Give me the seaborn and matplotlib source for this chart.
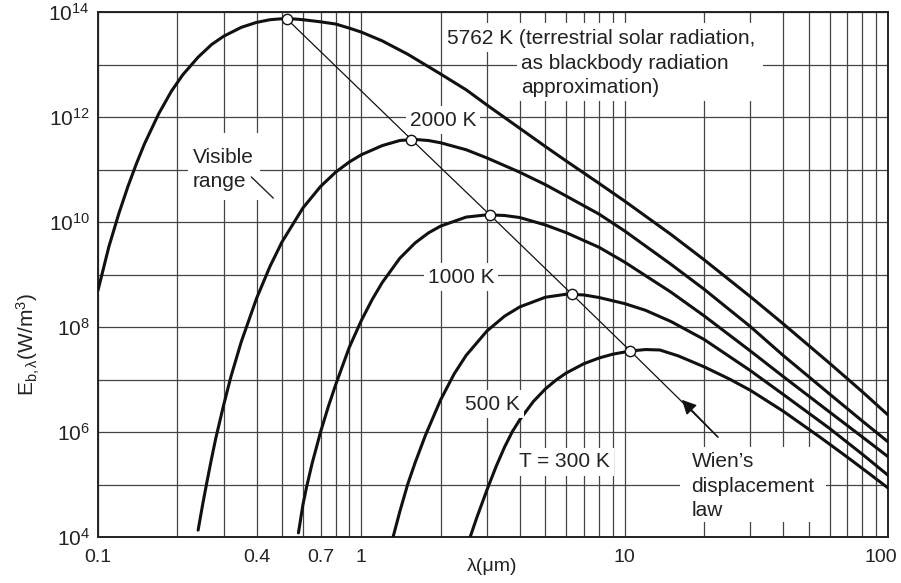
import matplotlib
matplotlib.use("Agg")
import pandas as pd
import seaborn as sns
import matplotlib.pyplot as plt
import matplotlib.transforms as mtransforms
from matplotlib.patches import Rectangle
from matplotlib.ticker import LogLocator, NullFormatter

# values (wavelength in um, E in W/m^3)
lam_5762 = [0.1, 0.11, 0.12, 0.13, 0.14, 0.15, 0.17, 0.19, 0.21, 0.24, 0.27, 0.3, 0.35, 0.4, 0.45,
            0.5, 0.55, 0.6, 0.7, 0.8, 0.9, 1.0, 1.2, 1.5, 2.0, 2.5, 3, 4, 5, 6, 8, 10, 15, 20, 30,
            40, 60, 80, 100]
E_5762 = [5.0e8, 3.4e9, 1.45e10, 4.8e10, 1.3e11, 3.05e11, 1.15e12, 3.1e12, 6.4e12, 1.38e13, 2.4e13,
          3.45e13, 5.1e13, 6.34e13, 7.13e13, 7.45e13, 7.39e13, 7.13e13, 6.5e13, 5.89e13, 4.93e13,
          4.14e13, 2.82e13, 1.57e13, 6.59e12, 3.30e12, 1.69e12, 6.07e11, 2.74e11, 1.45e11, 5.43e10,
          2.50e10, 5.78e9, 1.92e9, 3.79e8, 1.15e8, 2.04e7, 5.81e6, 2.11e6]

lam_2000 = [0.24, 0.25, 0.26, 0.27, 0.28, 0.30, 0.32, 0.35, 0.40, 0.45, 0.5, 0.6, 0.7, 0.8, 0.9,
            1.0, 1.2, 1.4, 1.6, 1.8, 2.0, 2.5, 3, 4, 5, 6, 8, 10, 15, 20, 30, 40, 60, 80, 100]
E_2000 = [1.35e4, 4.3e4, 1.21e5, 3.15e5, 7.55e5, 3.26e6, 1.15e7, 5.23e7, 3.5e8, 1.43e9, 4.19e9,
          1.85e10, 4.75e10, 8.95e10, 1.39e11, 1.91e11, 2.85e11, 3.57e11, 3.74e11, 3.56e11, 3.23e11,
          2.38e11, 1.66e11, 8.85e10, 5.14e10, 3.12e10, 1.41e10, 6.75e9, 1.56e9, 5.27e8, 1.02e8,
          2.87e7, 5.29e6, 1.61e6, 6.5e5]

lam_1000 = [0.577, 0.60, 0.62, 0.65, 0.70, 0.75, 0.80, 0.90, 1.0, 1.1, 1.2, 1.4, 1.6, 1.8, 2.0,
            2.5, 3.0, 3.5, 4.0, 5.0, 6.0, 8.0, 10, 15, 20, 30, 40, 60, 80, 100]
E_1000 = [1.2e4, 4.1e4, 9.1e4, 2.5e5, 1.0e6, 3.09e6, 8.1e6, 4.1e7, 1.33e8, 3.35e8, 7.0e8, 2.04e9,
          3.99e9, 6.22e9, 8.35e9, 1.24e10, 1.37e10, 1.33e10, 1.215e10, 8.78e9, 6.26e9, 3.29e9,
          1.72e9, 4.6e8, 1.64e8, 3.5e7, 1.14e7, 2.4e6, 8.0e5, 3.39e5]

lam_500 = [1.32, 1.4, 1.5, 1.6, 1.75, 2.0, 2.25, 2.5, 3.0, 3.5, 4.0, 5.0, 6.0, 7.0, 8.0, 10, 12,
           15, 20, 30, 40, 60, 80, 100]
E_500 = [1.0e4, 3.05e4, 1.01e5, 2.59e5, 8.57e5, 4.09e6, 1.27e7, 2.88e7, 8.41e7, 1.61e8, 2.42e8,
         3.69e8, 4.21e8, 4.08e8, 3.64e8, 2.79e8, 2.08e8, 1.27e8, 5.82e7, 1.48e7, 5.2e6, 1.17e6,
         3.75e5, 1.5e5]

lam_300 = [2.59, 2.75, 3.0, 3.25, 3.5, 3.75, 4.0, 4.5, 5.0, 5.5, 6.0, 7.0, 8.0, 9.0, 10.5, 12,
           13.6, 16, 20, 25, 30, 40, 55, 70, 85, 100]
E_300 = [1.0e4, 2.41e4, 7.9e4, 2.21e5, 5.18e5, 1.03e6, 1.72e6, 3.81e6, 6.62e6, 9.85e6, 1.33e7,
         2.0e7, 2.57e7, 3.03e7, 3.49e7, 3.72e7, 3.65e7, 2.81e7, 1.75e7, 1.02e7, 6.24e6, 2.49e6,
         8.07e5, 3.33e5, 1.6e5, 8.6e4]

# Wien's displacement law: peak points, then the end of the line
wien_lam = [0.521, 1.55, 3.08, 6.31, 10.5]
wien_E = [7.4e13, 3.72e11, 1.36e10, 4.2e8, 3.5e7]
wien_end = (22.6, 8.0e5)
wien_arrow_tip = (16.5, 4.1e6)

x_ticks = [0.1, 0.4, 0.7, 1, 10, 100]
x_tick_labels = ["0.1", "0.4", "0.7", "1", "10", "100"]
y_tick_exponents = [4, 6, 8, 10, 12, 14]

curves = {"5762 K": (lam_5762, E_5762), "2000 K": (lam_2000, E_2000),
          "1000 K": (lam_1000, E_1000), "500 K": (lam_500, E_500), "300 K": (lam_300, E_300)}
df = pd.concat([pd.DataFrame({"lam": l, "E": e, "T": name}) for name, (l, e) in curves.items()],
               ignore_index=True)
wien_df = pd.DataFrame({"lam": wien_lam + [wien_end[0]], "E": wien_E + [wien_end[1]]})
peaks_df = pd.DataFrame({"lam": wien_lam, "E": wien_E})

sns.set_style("white")
plt.rcParams["font.family"] = ["Liberation Sans", "DejaVu Sans"]
plt.rcParams["mathtext.fontset"] = "custom"
plt.rcParams["mathtext.rm"] = "Liberation Sans"
plt.rcParams["mathtext.it"] = "Liberation Sans:italic"
plt.rcParams["mathtext.default"] = "regular"

fig = plt.figure(figsize=(9.01, 5.83), dpi=100)
ax = fig.add_axes([98 / 901, 46 / 583, 790 / 901, 525 / 583])
ax.set_xscale("log")
ax.set_yscale("log")

sns.lineplot(data=df, x="lam", y="E", hue="T", palette=["#111111"] * 5, legend=False,
             estimator=None, sort=False, lw=2.2, ax=ax, zorder=3)
sns.lineplot(data=wien_df, x="lam", y="E", color="#111111", lw=0.9, estimator=None,
             sort=False, ax=ax, zorder=3)
sns.scatterplot(data=peaks_df, x="lam", y="E", s=55, color="white", edgecolor="#111111",
                linewidth=1.0, ax=ax, zorder=4)
ax.annotate("", xy=wien_arrow_tip, xytext=wien_end,
            arrowprops=dict(arrowstyle="-|>", color="#111111", lw=0.9, mutation_scale=22,
                            shrinkA=0, shrinkB=0), zorder=4)

ax.set_xlim(0.1, 100)
ax.set_ylim(1e4, 1e14)
ax.set_xticks(x_ticks)
ax.set_xticklabels(x_tick_labels)
ax.xaxis.set_minor_locator(LogLocator(base=10, subs=range(1, 10), numticks=30))
ax.xaxis.set_minor_formatter(NullFormatter())
ax.set_yticks([10.0 ** e for e in y_tick_exponents])
ax.set_yticklabels([f"$10^{{{e}}}$" for e in y_tick_exponents])
ax.yaxis.set_minor_locator(LogLocator(base=10, subs=[1.0], numticks=30))
ax.yaxis.set_minor_formatter(NullFormatter())
ax.tick_params(which="both", length=0, colors="#222222")
ax.tick_params(axis="x", pad=9, labelsize=14)
ax.tick_params(axis="y", pad=6, labelsize=15)
ax.grid(which="both", color="#444444", lw=0.9)
ax.set_axisbelow(True)
for s in ax.spines.values():
    s.set_color("#222222")
    s.set_linewidth(1.4)

# nudge the last x label so it stays inside the picture
last = ax.get_xticklabels()[-1]
last.set_transform(last.get_transform() + mtransforms.ScaledTranslation(-5 / 72, 0, fig.dpi_scale_trans))

ax.set_xlabel("λ(μm)", fontsize=14, color="#222222")
ax.xaxis.set_label_coords(0.499, -0.040)
ax.set_ylabel(r"E$_{b,λ}$(W/m$^3$)", fontsize=15, color="#222222")
ax.yaxis.set_label_coords(-0.071, 0.366)

# white patches that cut the grid behind the multi-line labels
for x0, y0, w, h in [(0.4367, 0.9238, 0.4051, 0.0552), (0.5304, 0.8305, 0.3114, 0.0933),
                     (0.1139, 0.6419, 0.0912, 0.1276), (0.7367, 0.0286, 0.1848, 0.1428)]:
    ax.add_patch(Rectangle((x0, y0), w, h, transform=ax.transAxes, fc="white", ec="none", zorder=2))

tkw = dict(transform=ax.transAxes, fontsize=15, color="#222222", va="center", zorder=5)
ax.text(0.4414, 0.9490, "5762 K (terrestrial solar radiation,", ha="left", **tkw)
ax.text(0.5351, 0.9023, "as blackbody radiation", ha="left", **tkw)
ax.text(0.5351, 0.8566, "approximation)", ha="left", **tkw)
ax.text(0.1199, 0.7238, "Visible", ha="left", **tkw)
ax.text(0.1199, 0.6762, "range", ha="left", **tkw)
ax.text(0.7514, 0.1434, "Wien’s", ha="left", **tkw)
ax.text(0.7514, 0.0958, "displacement", ha="left", **tkw)
ax.text(0.7514, 0.0514, "law", ha="left", **tkw)
box = dict(fc="white", ec="none", pad=3)
ax.text(0.4367, 0.794, "2000 K", ha="center", bbox=box, **tkw)
ax.text(0.4595, 0.495, "1000 K", ha="center", bbox=box, **tkw)
ax.text(0.4994, 0.2533, "500 K", ha="center", bbox=box, **tkw)
ax.text(0.5899, 0.1429, "T = 300 K", ha="center", bbox=box, **tkw)
ax.annotate("", xy=(0.2244, 0.6419), xytext=(0.1915, 0.6895), xycoords="axes fraction",
            arrowprops=dict(arrowstyle="-", color="#222222", lw=1.0), zorder=5)

fig.savefig("out.png", dpi=100)
